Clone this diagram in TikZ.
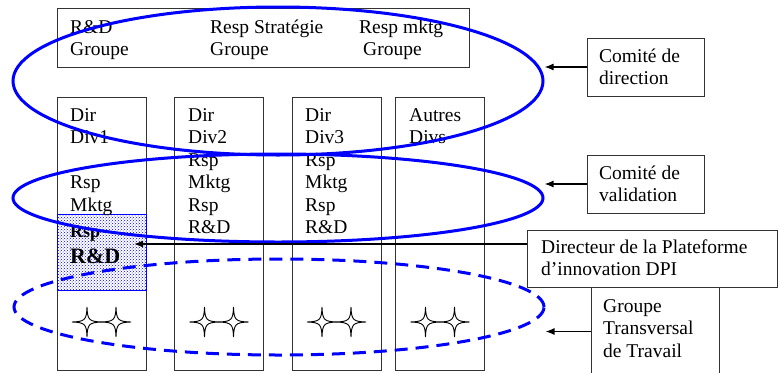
\documentclass[tikz,border=0pt]{standalone}
\usepackage{fontspec}
\setmainfont{Liberation Serif}
\usetikzlibrary{shapes.geometric}
\usetikzlibrary{patterns}
\usetikzlibrary{arrows.meta}

\tikzset{
  cadre/.style={draw=black!80, line width=1pt, inner sep=0pt},
  texte/.style={anchor=base west, align=left, inner sep=0pt, font=\fontsize{19.5}{22.5}\selectfont},
  comite/.style={ellipse, draw=blue, line width=3pt, inner sep=0pt, minimum width=530},
  fleche/.style={-{Latex[length=9pt,width=7pt]}, line width=1.3pt},
}

% etoile a quatre branches
\newcommand{\etoile}[1]{
  \draw[fill=white, line width=0.9pt, shift={(#1)}] (0,-15) .. controls (0.5,-2) and (2,-0.5) .. (15,0) .. controls (2,0.5) and (0.5,2) .. (0,15) .. controls (-0.5,2) and (-2,0.5) .. (-15,0) .. controls (-2,-0.5) and (-0.5,-2) .. cycle;
}

\begin{document}
\begin{tikzpicture}[x=1pt, y=-1pt]
\useasboundingbox (0,0) rectangle (778,372);

% groupe (textes places sur la ligne de base de leur derniere ligne)
\node[cadre, minimum width=412, minimum height=59] (groupe) at (263,37.5) {};
\node[texte] (rdG) at (70,55.5) {R\&D\\Groupe};
\node[texte] (stratG) at (210,55.5) {Resp Stratégie\\Groupe};
\node[texte] (mktgG) at (359,55.5) {Resp mktg\\\hspace*{4pt}Groupe};

% divisions
\node[cadre, minimum width=89, minimum height=273] (div1) at (101.5,233.5) {};
\node[cadre, minimum width=89, minimum height=273] (div2) at (219,233.5) {};
\node[cadre, minimum width=89, minimum height=273] (div3) at (336.5,233.5) {};
\node[cadre, minimum width=89, minimum height=273] (div4) at (440,233.5) {};

\node[draw=blue, line width=0.8pt, pattern=crosshatch dots, pattern color=blue, minimum width=89, minimum height=76, inner sep=0pt] (rdBox) at (101.5,252) {};

\node[texte] (txt1) at (70,211) {Dir\\Div1\\\mbox{}\\Rsp\\Mktg};
\node[texte] (txt2) at (188,233.5) {Dir\\Div2\\Rsp\\Mktg\\Rsp\\R\&D};
\node[texte] (txt3) at (305,233.5) {Dir\\Div3\\Rsp\\Mktg\\Rsp\\R\&D};
\node[texte] (txt4) at (409,143.5) {Autres\\Divs};
\node[texte, font=\fontsize{18}{18}\bfseries] (rspB) at (70,237) {Rsp};
\node[texte, font=\fontsize{22}{22}\bfseries] (rdB) at (70,263) {R\&D};

\foreach \cx in {101.5,219,336.5,440} {
  \etoile{\cx-14.5,322}
  \etoile{\cx+14.5,322}
}

% comites
\node[comite, minimum height=148] (dirEll) at (278,81) {};
\node[comite, minimum height=88] (valEll) at (278,198) {};
\node[comite, minimum height=96, dash pattern=on 13pt off 8pt] (gttEll) at (279,307) {};

% legendes
\node[cadre, minimum width=117, minimum height=58] (cdir) at (645.5,67) {};
\node[texte] (cdirT) at (599,84.5) {Comité de\\direction};
\node[cadre, minimum width=117, minimum height=58] (cval) at (645.5,184) {};
\node[texte] (cvalT) at (599,201.5) {Comité de\\validation};
\node[cadre, minimum width=250, minimum height=57] (dpi) at (652,258.5) {};
\node[texte] (dpiT) at (541,275.5) {Directeur de la Plateforme\\d’innovation DPI};
\node[cadre, minimum width=128, minimum height=89] (gtt) at (655,331.5) {};
\node[texte] (gttT) at (603,357) {Groupe\\Transversal\\de Travail};

\coordinate (cibleRD) at (134,244);

\draw[fleche] (cdir.west) -- (cdir.west -| dirEll.east);
\draw[fleche] (cval.west) -- (cval.west -| valEll.east);
\draw[fleche] (dpi.west |- cibleRD) -- (cibleRD);
\draw[fleche] (gtt.west) -- (gtt.west -| gttEll.east);

\end{tikzpicture}
\end{document}
